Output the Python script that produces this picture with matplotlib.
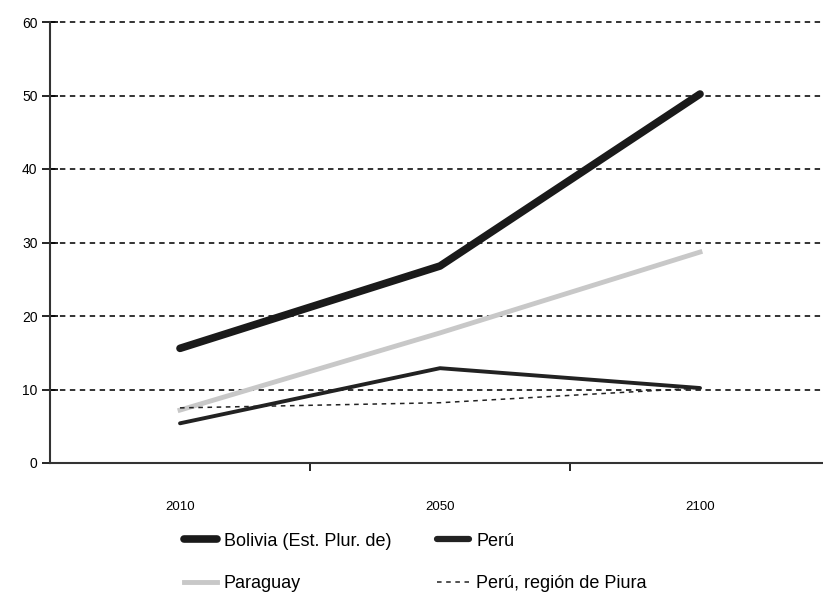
import matplotlib
matplotlib.use('Agg')
import matplotlib.pyplot as plt
from matplotlib.lines import Line2D

plt.rcParams['font.family'] = ['Liberation Sans', 'DejaVu Sans']

years = ['2010', '2050', '2100']
bolivia = [15.6, 26.8, 50.2]
paraguay = [7.2, 17.7, 28.7]
peru = [5.4, 12.9, 10.2]
piura = [7.5, 8.2, 10.2]
yticks = [0, 10, 20, 30, 40, 50, 60]

fig = plt.figure(figsize=(8.23, 5.95), dpi=100)
ax = fig.add_axes([50 / 823, 1 - 463 / 595, 1 - 50 / 823, (463 - 22) / 595])

x = list(range(len(years)))
ax.plot(x, bolivia, color='#1a1a1a', lw=5.5, solid_capstyle='round', zorder=4)
ax.plot(x, peru, color='#222222', lw=2.8, solid_capstyle='round', zorder=4)
ax.plot(x, paraguay, color='#c8c8c8', lw=3.5, zorder=3)
ax.plot(x, piura, color='#222222', lw=1.1, ls=(0, (3, 3)), zorder=3)

ax.set_ylim(0, 60)
ax.set_xlim(-0.5, 2.473)
ax.set_yticks(yticks)
ax.set_xticks(x)
ax.set_xticklabels(years)
ax.set_xticks([0.5, 1.5], minor=True)
ax.tick_params(axis='x', which='major', length=0, pad=27, labelsize=9.5)
ax.tick_params(axis='x', which='minor', length=6, direction='out', width=1.2)
ax.tick_params(axis='y', length=12, direction='inout', width=1.2, labelsize=10, pad=3)

for v in yticks[1:]:
    ax.axhline(v, color='#222222', lw=1.3, ls=(0, (3, 2.5)), zorder=1, clip_on=False)

for s in ['top', 'right']:
    ax.spines[s].set_visible(False)
ax.spines['left'].set_linewidth(1.5)
ax.spines['bottom'].set_linewidth(1.5)
ax.spines['left'].set_color('#333333')
ax.spines['bottom'].set_color('#333333')

# legend filled row by row: Bolivia, Perú / Paraguay, Piura
handles = [
    Line2D([], [], color='#1a1a1a', lw=5.5, solid_capstyle='round'),
    Line2D([], [], color='#c8c8c8', lw=3.5),
    Line2D([], [], color='#222222', lw=4.5, solid_capstyle='round'),
    Line2D([], [], color='#222222', lw=1.1, ls=(0, (3, 3))),
]
labels = ['Bolivia (Est. Plur. de)', 'Paraguay', 'Perú', 'Perú, región de Piura']
fig.legend(handles, labels, loc='lower left', bbox_to_anchor=(168 / 823, -0.022), ncol=2,
           frameon=False, fontsize=13, handlelength=1.8, columnspacing=2.5,
           handletextpad=0.4, labelspacing=1.4)

plt.savefig('out.png', dpi=100)
plt.close()
